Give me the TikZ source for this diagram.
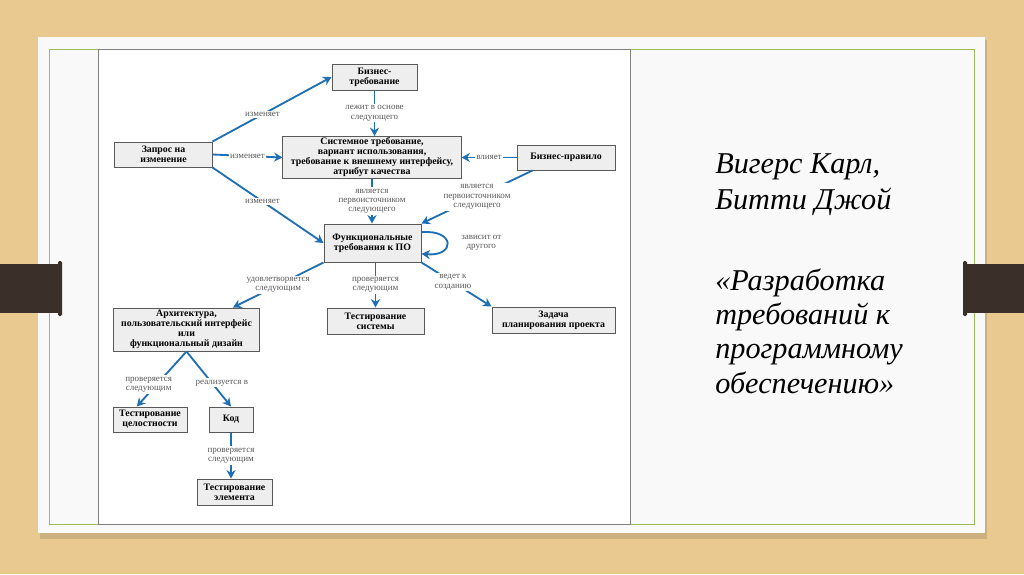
\documentclass[tikz,border=0pt]{standalone}
\usepackage{fontspec}
\setmainfont{Liberation Serif}
\usepackage{xcolor}
\usepackage{tikz}
\usetikzlibrary{positioning, shapes, arrows.meta}

\definecolor{wood}{RGB}{233,201,143}
\definecolor{band}{RGB}{58,48,41}
\definecolor{frame}{RGB}{155,187,89}
\definecolor{slide}{RGB}{249,249,249}
\definecolor{arrowblue}{RGB}{31,111,181}
\definecolor{boxfill}{RGB}{238,238,238}

\begin{document}
\begin{tikzpicture}[x=0.025cm, y=-0.025cm,
  box/.style={draw=black!65, line width=0.7pt, fill=boxfill, rectangle, align=center, inner sep=1pt, font=\fontsize{7}{7.1}\selectfont\bfseries},
  lbl/.style={fill=white, inner sep=1pt, align=center, text=black!65, font=\fontsize{6.4}{6.6}\selectfont},
  flow/.style={draw=arrowblue, line width=1.3pt, -{Stealth[length=6pt, width=6.5pt]}}]
  \useasboundingbox (0,0) rectangle (1024,574);
  \fill[wood] (0,0) rectangle (1024,574);
  \fill[black, opacity=0.12] (40,40) rectangle (987,539);
  \fill[slide] (38,37) rectangle (985,533);
  \draw[frame, line width=0.7pt] (49,49) rectangle (974,524);
  \filldraw[fill=white, draw=black!50, line width=0.6pt] (98,49) rectangle (630,524);
  \fill[band] (0,264) rectangle (62,313);
  \fill[band, rounded corners=1pt] (58,261) rectangle (62,316);
  \fill[band] (963,264) rectangle (1024,313);
  \fill[band, rounded corners=1pt] (963,261) rectangle (967,316);

  \node (authors) [anchor=base west, align=left, inner sep=0pt, font=\fontsize{21.5}{25.5}\selectfont\itshape] at (715,209) {Вигерс Карл,\\Битти Джой};
  \node (title) [anchor=base west, align=left, inner sep=0pt, font=\fontsize{21.5}{24.3}\selectfont\itshape] at (715,393) {«Разработка\\требований к\\программному\\обеспечению»};

  \node (biz) [box, minimum width=2.125cm, minimum height=0.65cm] at (374.5,77) {Бизнес-\\требование};
  \node (sys) [box, minimum width=4.45cm, minimum height=1.025cm] at (372,157.5) {Системное требование,\\вариант использования,\\требование к внешнему интерфейсу,\\атрибут качества};
  \node (rule) [box, minimum width=2.45cm, minimum height=0.625cm] at (566,157.5) {Бизнес-правило};
  \node (req) [box, minimum width=2.425cm, minimum height=0.625cm] at (163.5,154.5) {Запрос на\\изменение};
  \node (func) [box, minimum width=2.425cm, minimum height=0.95cm] at (372.5,243) {Функциональные\\требования к ПО};
  \node (systest) [box, minimum width=2.425cm, minimum height=0.65cm] at (375.5,321) {Тестирование\\системы};
  \node (plan) [box, minimum width=3.075cm, minimum height=0.65cm] at (553.5,320) {Задача\\планирования проекта};
  \node (arch) [box, minimum width=3.625cm, minimum height=1.075cm] at (186.5,329.5) {Архитектура,\\пользовательский интерфейс\\или\\функциональный дизайн};
  \node (inttest) [box, minimum width=1.85cm, minimum height=0.625cm] at (150,419.5) {Тестирование\\целостности};
  \node (code) [box, minimum width=1.1cm, minimum height=0.625cm] at (231,419.5) {Код};
  \node (unittest) [box, minimum width=1.875cm, minimum height=0.65cm] at (234.5,492) {Тестирование\\элемента};

  \draw[flow] (req.north east) -- node[lbl, pos=0.42] {изменяет} (biz.west);
  \draw[flow] (req.east) -- node[lbl] {изменяет} (sys.west);
  \draw[flow] (req.south east) -- node[lbl, pos=0.45] {изменяет} (func.west);
  \draw[flow] (biz.south) -- node[lbl] {лежит в основе\\следующего} (biz.south |- sys.north);
  \draw[flow] (rule.west) -- node[lbl] {влияет} (sys.east);
  \draw[flow] (sys.south) -- node[lbl] {является\\первоисточником\\следующего} (sys.south |- func.north);
  \draw[flow] ([xshift=0.4cm]rule.south west) -- node[lbl] {является\\первоисточником\\следующего} (func.north east);
  \draw[flow] ([yshift=0.27cm]func.east) .. controls +(34,-3) and +(34,3) .. node[lbl, right=0.3cm] {зависит от\\другого} ([yshift=-0.27cm]func.east);
  \draw[flow] (func.south west) -- node[lbl] {удовлетворяется\\следующим} ([xshift=1.16cm]arch.north);
  \draw[flow] (systest.north |- func.south) -- node[lbl] {проверяется\\следующим} (systest.north);
  \draw[flow] (func.south east) -- node[lbl, pos=0.45] {ведет к\\созданию} (plan.north west);
  \draw[flow] (arch.south) -- node[lbl, pos=0.6, xshift=-0.2cm] {проверяется\\следующим} ([xshift=-0.33cm]inttest.north);
  \draw[flow] (arch.south) -- node[lbl, pos=0.57, xshift=0.25cm] {реализуется в} (code.north);
  \draw[flow] (code.south) -- node[lbl] {проверяется\\следующим} (code.south |- unittest.north);
\end{tikzpicture}
\end{document}
